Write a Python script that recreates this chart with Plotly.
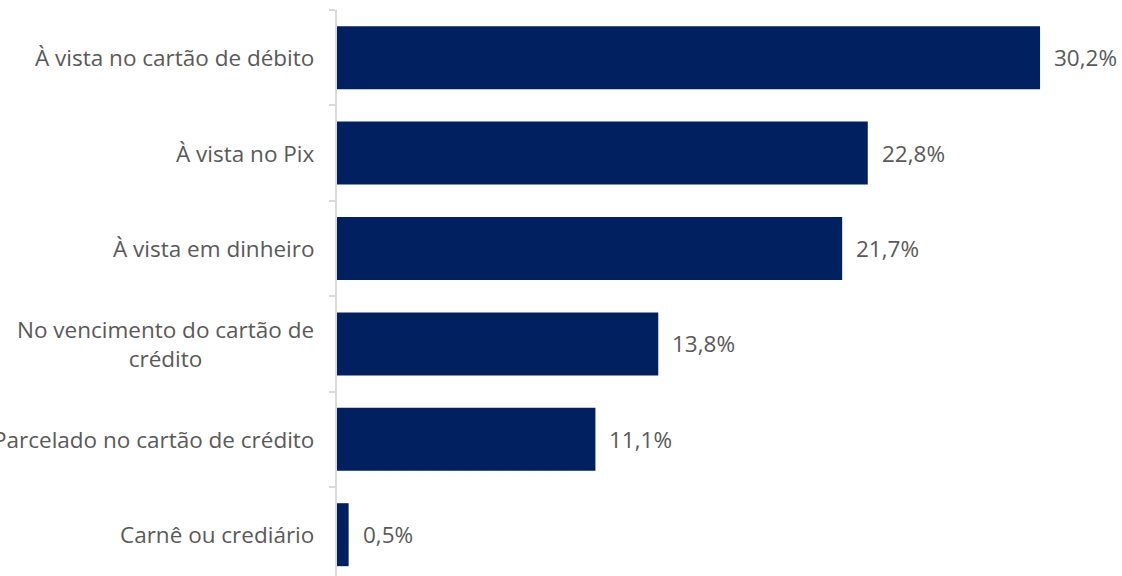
import plotly.graph_objects as go

# Payment methods (top to bottom) and share of respondents (%)
categories = [
    "À vista no cartão de débito",
    "À vista no Pix",
    "À vista em dinheiro",
    "No vencimento do cartão de<br>crédito",
    "Parcelado no cartão de crédito",
    "Carnê ou crediário",
]
values = [30.2, 22.8, 21.7, 13.8, 11.1, 0.5]

BAR_COLOR = "#002060"
TEXT_COLOR = "#595959"
AXIS_COLOR = "#d9d9d9"
FONT = "Open Sans, Noto Sans, sans-serif"
FONT_SIZE = 22.5

cat_ids = list(range(len(categories)))

fig = go.Figure(
    go.Bar(
        x=values,
        y=cat_ids,
        orientation="h",
        marker=dict(color=BAR_COLOR, line=dict(width=0)),
        hoverinfo="skip",
    )
)

# Value labels to the right of each bar
for i, v in zip(cat_ids, values):
    fig.add_annotation(
        x=v, y=i, xref="x", yref="y",
        text=f"{v:.1f}%".replace(".", ","),
        showarrow=False, xanchor="left", yanchor="middle", xshift=12,
        font=dict(family=FONT, size=FONT_SIZE, color=TEXT_COLOR),
    )

# Category labels, centred text block right-aligned to the axis
for i, c in zip(cat_ids, categories):
    fig.add_annotation(
        x=0, y=i, xref="paper", yref="y",
        text=c, align="center",
        showarrow=False, xanchor="right", yanchor="middle", xshift=-21,
        font=dict(family=FONT, size=FONT_SIZE, color=TEXT_COLOR),
    )

fig.update_layout(
    width=1122, height=576,
    margin=dict(l=337, r=0, t=10, b=0),
    paper_bgcolor="white", plot_bgcolor="white",
    bargap=0.34,
    showlegend=False,
    xaxis=dict(range=[0, 33.72], visible=False, fixedrange=True),
    yaxis=dict(
        range=[5.433, -0.5],
        tickmode="array",
        tickvals=[i - 0.5 for i in cat_ids],
        ticktext=["" for _ in cat_ids],
        ticks="outside", ticklen=6, tickwidth=2, tickcolor=AXIS_COLOR,
        showline=True, linecolor=AXIS_COLOR, linewidth=2,
        showgrid=False, zeroline=False, showticklabels=False,
        fixedrange=True,
    ),
)

fig.write_html("out.html")
